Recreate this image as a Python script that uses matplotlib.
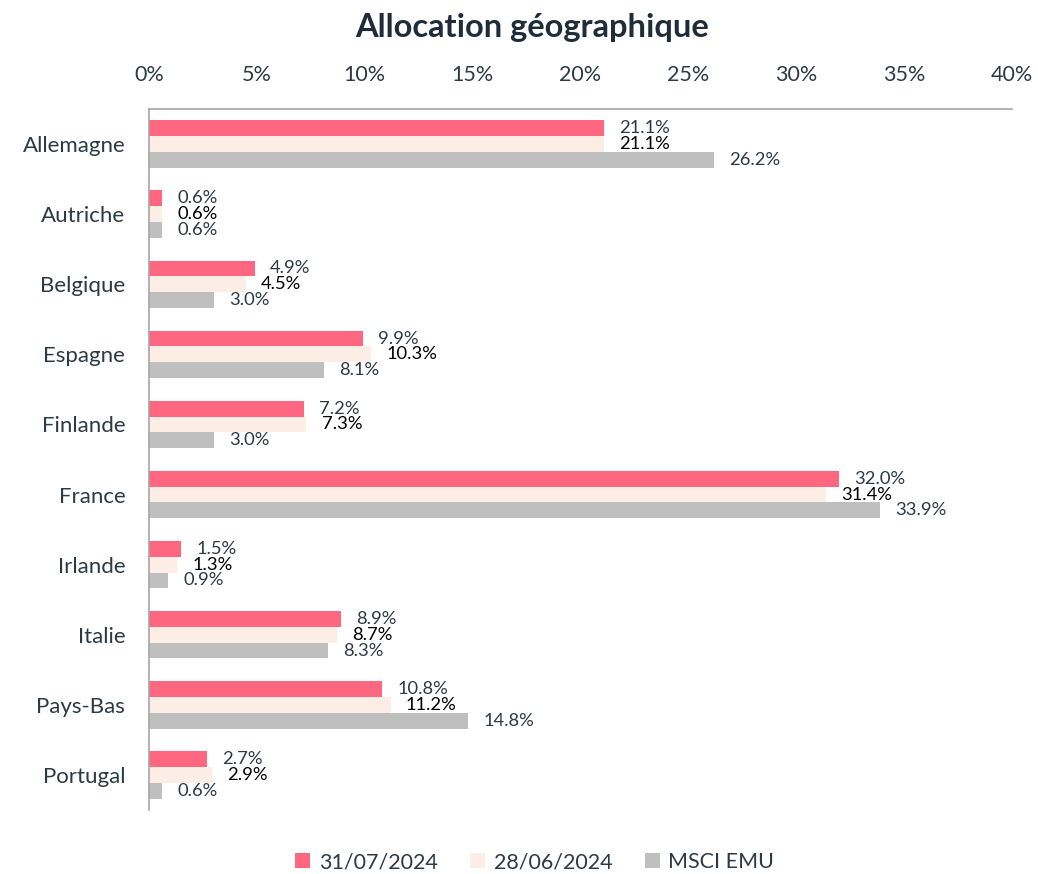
import numpy as np
import matplotlib.pyplot as plt
from matplotlib.ticker import FuncFormatter

plt.rcParams['font.family'] = ['Lato', 'DejaVu Sans']

countries = ['Allemagne', 'Autriche', 'Belgique', 'Espagne', 'Finlande',
             'France', 'Irlande', 'Italie', 'Pays-Bas', 'Portugal']
s_jul = [21.1, 0.6, 4.9, 9.9, 7.2, 32.0, 1.5, 8.9, 10.8, 2.7]
s_jun = [21.1, 0.6, 4.5, 10.3, 7.3, 31.4, 1.3, 8.7, 11.2, 2.9]
s_msci = [26.2, 0.6, 3.0, 8.1, 3.0, 33.9, 0.9, 8.3, 14.8, 0.6]
series_names = ['31/07/2024', '28/06/2024', 'MSCI EMU']

colors = ['#ff6680', '#fdeee5', '#bfbfbf']
label_colors = ['#2b3a45', '#000000', '#2b3a45']

fig = plt.figure(figsize=(10.38, 8.74), dpi=100)
ax = fig.add_axes([0.1435, 0.0732, 0.8315, 0.8021])

y = np.arange(len(countries))
h = 0.225
for i, (vals, name) in enumerate(zip([s_jul, s_jun, s_msci], series_names)):
    pos = y + (i - 1) * h
    ax.barh(pos, vals, height=h, color=colors[i], label=name)
    for p, v in zip(pos, vals):
        ax.text(v + 0.7, p, f'{v:.1f}%', va='center', ha='left',
                fontsize=13.2, color=label_colors[i])

ax.set_xlim(0, 40)
ax.set_ylim(len(countries) - 0.5, -0.5)
ax.set_yticks(y)
ax.set_yticklabels(countries, fontsize=16, color='#2b3a45')
ax.set_xticks(np.arange(0, 41, 5))
ax.xaxis.set_major_formatter(FuncFormatter(lambda v, _: f'{v:.0f}%'))
ax.xaxis.tick_top()
ax.tick_params(axis='x', length=0, labelsize=15.5, labelcolor='#2b3a45', pad=17)
ax.tick_params(axis='y', length=0, pad=17)
for s in ['right', 'bottom']:
    ax.spines[s].set_visible(False)
for s in ['top', 'left']:
    ax.spines[s].set_color('#a6a6a6')
    ax.spines[s].set_linewidth(1.2)

fig.suptitle('Allocation géographique', x=0.513, y=0.985, fontsize=23.5,
             fontweight='bold', color='#1f2d3a')

fig.legend(loc='lower center', bbox_to_anchor=(0.515, -0.02), ncol=3, frameon=False,
           fontsize=15.5, handlelength=0.7, handleheight=0.7, handletextpad=0.4,
           columnspacing=1.5, labelcolor='#2b3a45')

fig.savefig('out.png', dpi=100)
